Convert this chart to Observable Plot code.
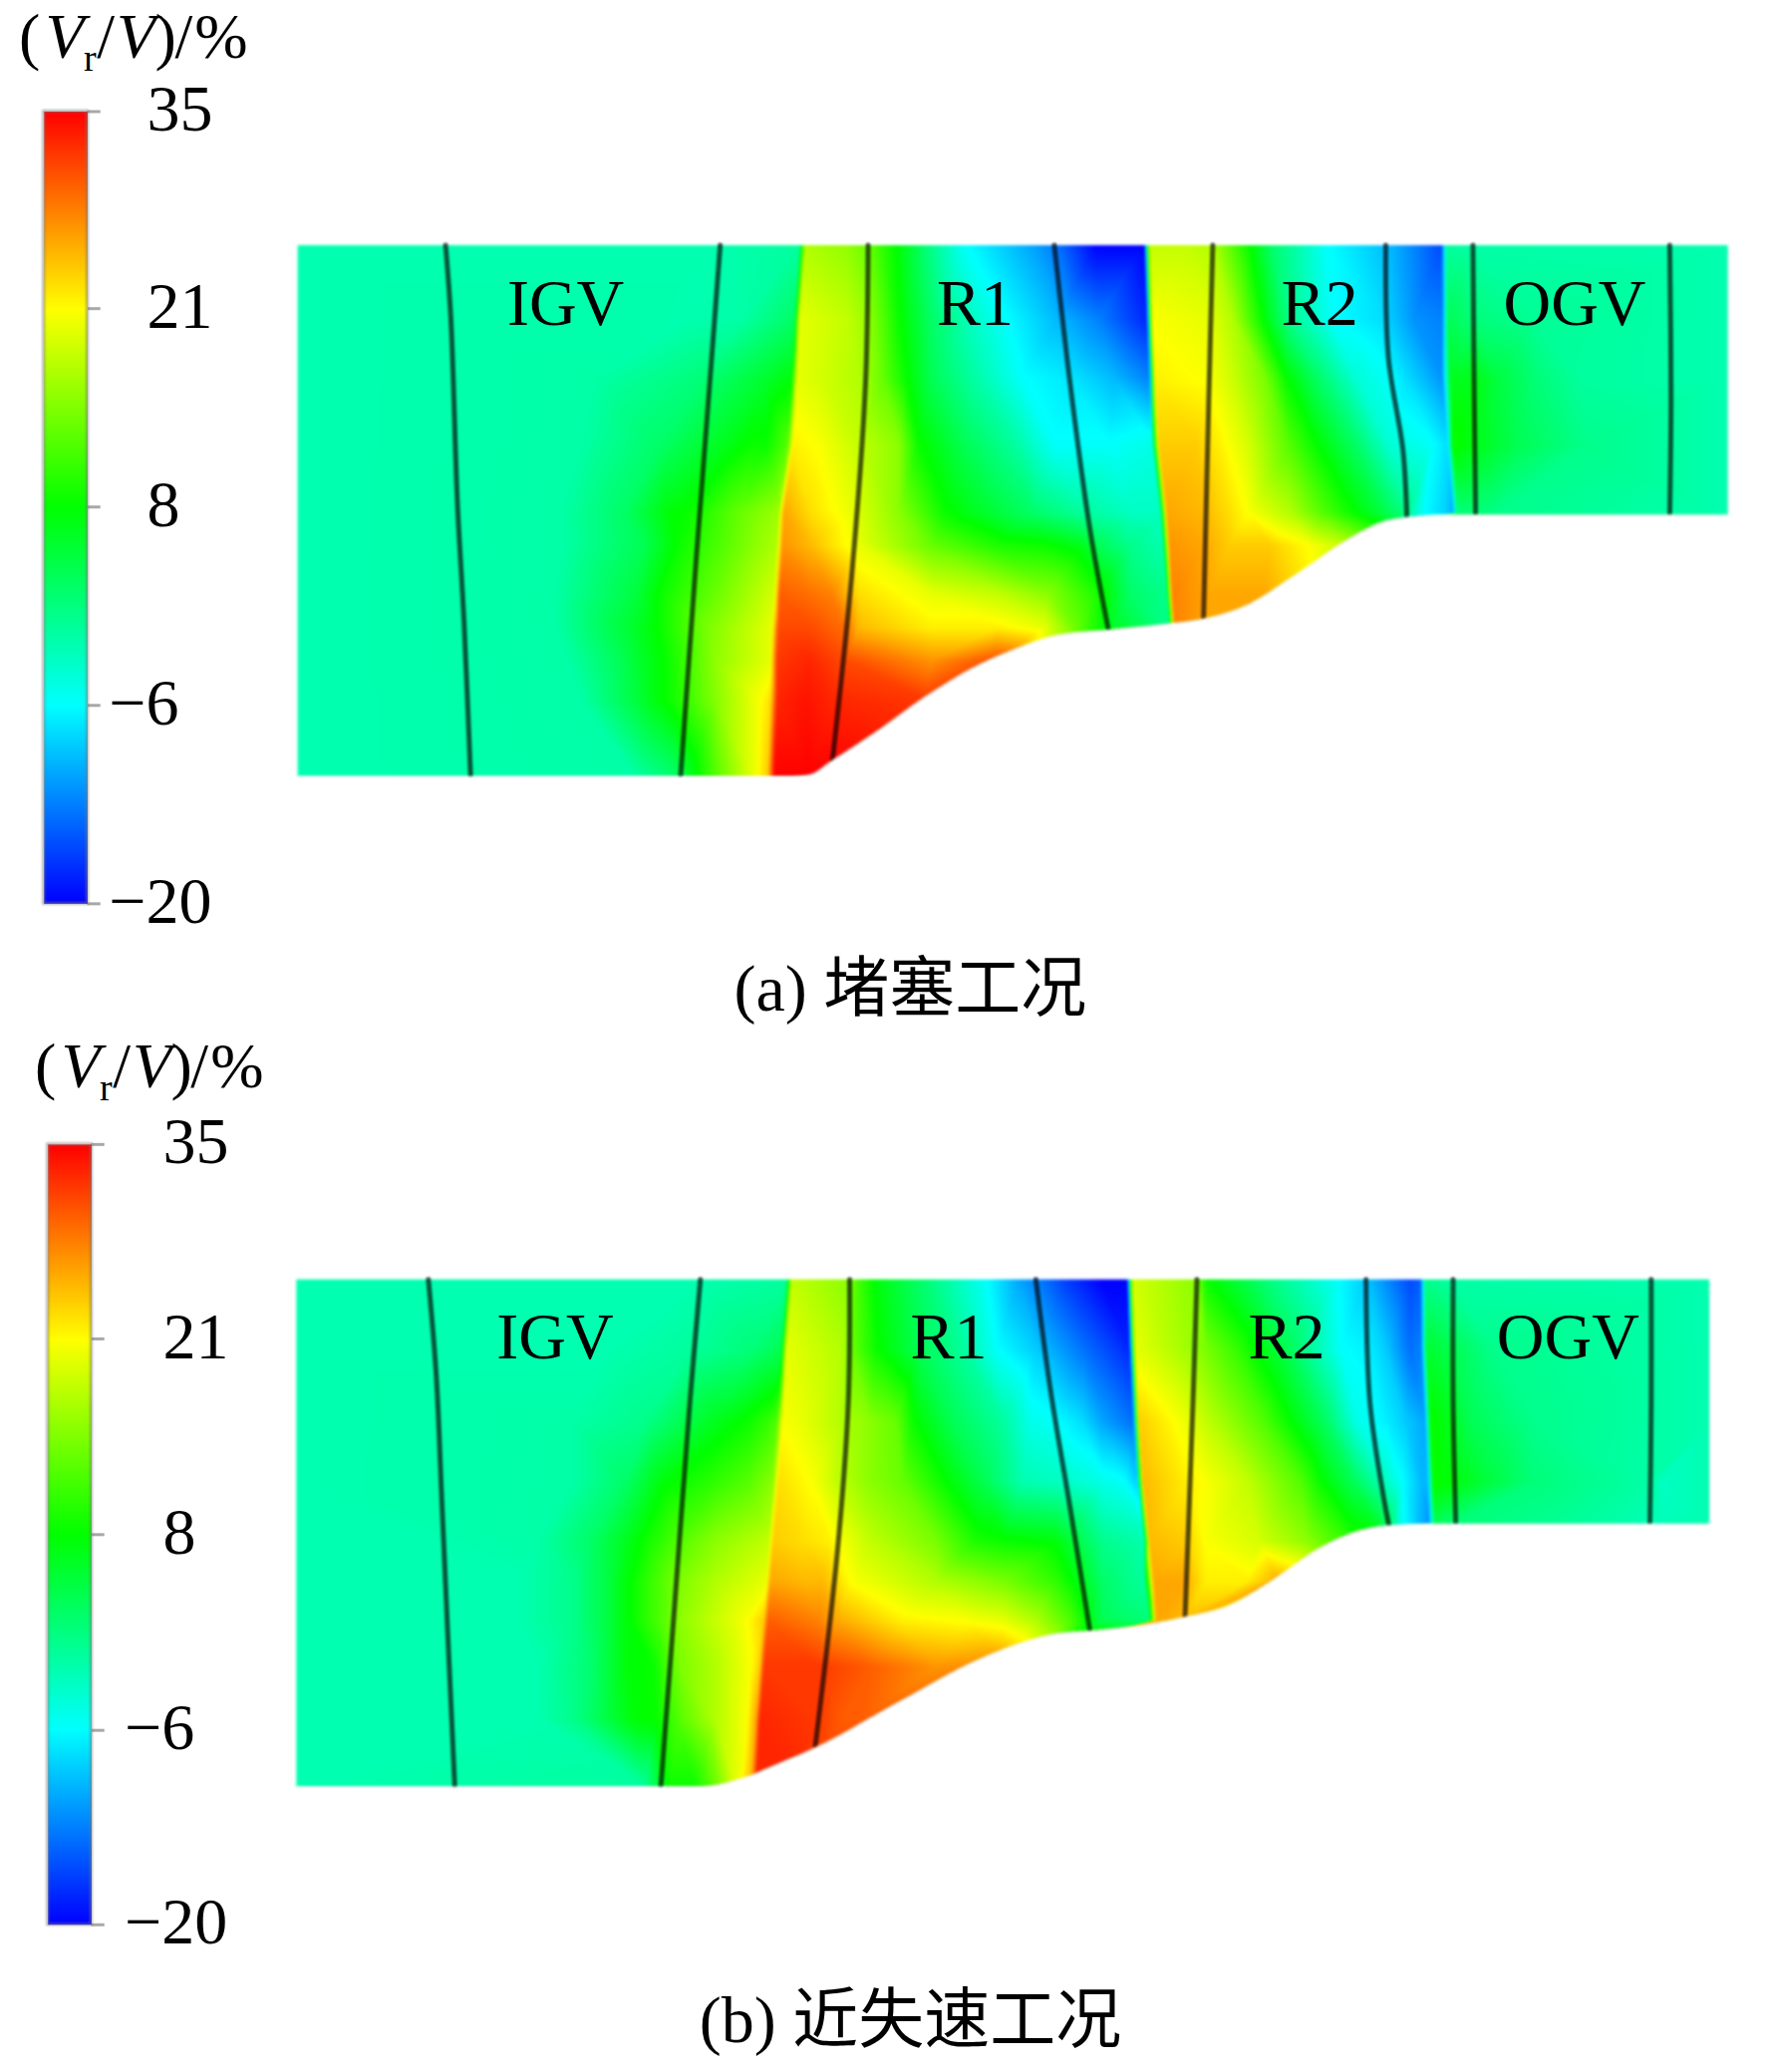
<!DOCTYPE html>
<html><head><meta charset="utf-8">
<style>html,body{margin:0;padding:0;background:#fff}svg{display:block}</style>
<script src="https://cdn.jsdelivr.net/npm/d3@7"></script>
<script src="https://cdn.jsdelivr.net/npm/@observablehq/plot@0.6"></script>
</head><body>
<script>
// Colour scale (Vr/V in %)
const scaleValues = [-20, -6.25, 7.5, 21.25, 35];
const scaleColors = ["#0000ff", "#00ffff", "#00ff00", "#ffff00", "#ff0000"];
const tickLabels = ["35", "21", "8", "−6", "−20"];
const tickYA = [84, 233, 383, 533, 683];
const tickYB = [865, 1012, 1160, 1308, 1455];
const tickLabelX = {A: [111, 111, 111, 82, 82], B: [123, 123, 123, 94, 94]};

// Field samples: radial station y, then [axial x, value]
const fieldA = [
 [185, [[225,-2],[540,-2],[605,-1],[609,17],[640,15.5],[658,13],[668,10],[680,7],[705,0],[730,-6],[780,-11],[796,-13],[830,-20],[866,-20],[870,18],[900,18],[918,17],[945,8],[962,2],[1004,-6],[1052,-10],[1091,-16],[1095,-1],[1115,-1.5],[1308,-2]]],
 [241, [[225,-2],[520,-2],[560,-1.5],[601,2],[605,20],[640,18],[655,16],[665,13],[680,8],[705,2],[743,-4],[760,-6],[800,-10],[831,-13],[868,-18],[872,21],[915,20],[933,17],[955,8],[976,0],[1008,-6],[1046,-8],[1070,-12],[1092,-13],[1096,3],[1115,1],[1160,-0.5],[1308,-2]]],
 [286, [[225,-2],[450,-1.5],[530,1],[579,5],[599,7],[603,20],[620,19],[651,17],[668,13],[685,8],[705,3],[743,-2],[773,-6],[811,-7.5],[844,-10],[870,-13],[874,22],[914,21],[930,19],[958,14],[973,8],[998,2],[1027,-4],[1052,-6],[1065,-8],[1092,-12],[1098,6],[1120,6],[1134,4],[1165,1],[1196,-1],[1308,-2]]],
 [336, [[225,-2],[440,-1.5],[500,2],[548,6],[568,8],[580,8],[596,12],[600,22],[620,21],[650,18],[680,15],[695,8],[730,3],[768,-1],[798,-6],[840,-6],[872,-5],[877,24],[905,24],[923,22],[945,19],[976,12],[995,8],[1027,2],[1052,-4],[1084,-6],[1096,-8],[1100,8],[1120,6],[1150,3],[1200,0],[1308,-2]]],
 [387, [[225,-2],[425,-1.5],[472,2],[505,7],[522,8],[560,13],[589,16],[593,26],[613,23],[645,20],[680,15],[715,8],[735,6],[780,2],[820,-1],[856,-3],[878,-3],[883,26],[912,25],[930,23],[945,21],[977,17],[1001,12],[1023,8],[1046,4],[1065,0],[1077,-6],[1096,-9],[1100,-11],[1103,1],[1117,1],[1135,0],[1308,-2]]],
 [412, [[225,-2],[426,-1.5],[487,3],[514,8],[555,13],[588,17],[592,27],[613,25],[650,20],[705,13],[755,9],[793,8],[820,6],[830,3],[855,0],[880,-2],[885,27],[911,26],[930,24],[961,24],[992,21],[1018,18]]],
 [449, [[225,-2],[420,-1.5],[480,4],[500,8],[540,13],[586,19],[590,30],[613,29],[630,28],[650,23],[705,20],[755,18],[793,15],[830,9],[855,2],[883,0],[887,28],[915,26],[940,26],[956,26]]],
 [474, [[225,-2],[420,-1.5],[478,5],[500,8],[535,14],[584,20],[589,31],[613,31],[640,29],[650,25],[705,22],[755,22],[790,20],[815,13],[840,6],[885,0],[889,28],[915,26]]],
 [499, [[225,-2],[430,-1.5],[470,3],[490,6],[505,8],[540,15],[583,20],[588,32],[613,33],[640,31],[705,27],[755,31]]],
 [529, [[225,-2],[440,-1.5],[480,4],[498,7],[512,9],[543,15],[575,21],[583,23],[588,33],[610,34],[630,33],[700,32]]],
 [587, [[225,-2],[480,-1.5],[512,2],[520,5],[545,13],[570,20],[581,24],[586,35],[612,35],[640,35]]]
];
const fieldB = [
 [967, [[224,-2],[530,-2],[595,-1],[599,18],[641,15],[650,11],[663,7],[696,2],[733,-4],[746,-6],[771,-11],[784,-13],[809,-17],[834,-20],[853,-20],[857,19],[905,15],[913,8],[959,1],[1012,-6],[1033,-9],[1067,-16],[1075,-15],[1079,0],[1100,-1.5],[1294,-2]]],
 [1020, [[224,-2],[460,-2],[522,-1],[568,1],[591,3],[595,20],[638,17],[645,13],[663,8],[696,3],[729,-1],[754,-6],[784,-9],[821,-14],[855,-18],[859,20],[900,16],[913,14],[938,10],[947,8],[975,3],[1015,-6],[1036,-7],[1049,-9],[1067,-14],[1076,-13],[1080,5],[1100,3],[1130,0],[1294,-2]]],
 [1075, [[224,-2],[434,-1.5],[487,0],[514,3],[541,6],[565,8],[580,10],[588,12],[592,21],[608,20],[638,17],[658,15],[678,13],[691,8],[721,3],[759,-1],[779,-5],[799,-6],[819,-8],[834,-11],[858,-14],[862,24],[882,22],[900,20],[913,18],[956,12],[975,8],[1005,2],[1027,-5],[1049,-7],[1064,-9],[1079,-11],[1083,8],[1098,6],[1113,3],[1160,0],[1294,-2]]],
 [1120, [[224,-2],[434,-1.5],[474,2],[501,7],[514,8],[541,10],[565,12],[585,15],[589,23],[615,21],[633,18],[658,15],[683,13],[713,8],[746,3],[774,-2],[803,-3],[834,-5],[851,-6],[861,-9],[865,25],[899,22],[913,21],[944,18],[984,12],[999,8],[1024,3],[1049,-3],[1061,-6],[1076,-10],[1081,-10],[1085,8],[1100,7],[1129,4],[1160,1],[1249,-1.5],[1258,-3],[1294,-2]]],
 [1152, [[1040,6],[1052,2],[1060,-5],[1075,-10],[1082,-12],[1086,3],[1100,1],[1200,-1],[1258,-2.5],[1294,-2]]],
 [1165, [[224,-2],[407,-1.5],[447,2],[474,6],[487,8],[514,12],[541,15],[582,18],[585,24],[608,23],[628,22],[658,18],[708,14],[738,9],[759,8],[799,7],[809,5],[834,0],[866,-2],[870,25],[897,24],[913,21],[953,19],[990,15],[1020,10]]],
 [1195, [[224,-2],[393,-2],[434,0],[460,4],[474,7],[512,14],[541,17],[580,20],[583,26],[608,25],[623,25],[645,21],[708,17],[759,14],[799,10],[814,7],[834,2],[866,-1],[873,26],[896,26],[913,22],[944,22],[968,26]]],
 [1225, [[224,-2],[393,-2],[434,0],[460,4],[474,7],[501,12],[514,15],[565,21],[578,24],[581,30],[620,28],[633,26],[683,22],[733,21],[759,20],[784,17],[809,12],[821,8],[834,3],[870,1],[875,26],[895,25]]],
 [1260, [[224,-2],[407,-2],[447,1.5],[474,7],[495,8],[514,14],[541,17],[568,21],[575,24],[578,32],[620,32],[658,30],[708,27],[759,28]]],
 [1300, [[224,-2],[407,-2],[434,0],[460,4],[479,7],[498,8],[514,12],[541,17],[565,21],[572,26],[575,33],[617,32],[638,30],[650,30]]],
 [1351, [[224,-2],[487,-1],[506,8],[525,8],[541,13],[558,20],[568,25],[572,33],[600,33]]]
];

// Hub profile (lower wall of the passage)
const hubA = [[225,587],[600,587],[612,586],[630,575],[665,552],[700,527],[740,503],[770,490],[800,480],[840,476],[880,472],[915,467],[945,457],[980,435],[1020,408],[1045,395],[1065,391],[1095,389],[1325,389]];
const hubB = [[224,1351],[530,1351],[560,1345],[590,1333],[620,1320],[680,1287],[740,1255],[770,1243],[800,1235],[825,1233],[870,1228],[900,1222],[930,1214],[960,1197],[1000,1170],[1030,1157],[1055,1153],[1085,1152],[1312,1152]];

// Blade edges
const bladesA = [
 [[337,185],[341,240],[346,380],[351,470],[356,587]],
 [[545,185],[537,290],[527,420],[515,587]],
 [[657,185],[655,290],[645,430],[630,575]],
 [[798,185],[810,290],[825,400],[839,476]],
 [[918,185],[915,300],[911,467]],
 [[1049,185],[1051,270],[1062,340],[1065,393]],
 [[1115,185],[1116,300],[1117,389]],
 [[1264,185],[1265,300],[1264,390]]
];
const bladesB = [
 [[324,967],[330,1040],[334,1130],[338,1220],[344,1351]],
 [[530,967],[522,1060],[510,1220],[500,1351]],
 [[643,967],[642,1060],[634,1170],[617,1320]],
 [[784,967],[795,1050],[810,1140],[825,1233]],
 [[906,967],[903,1060],[897,1222]],
 [[1034,967],[1037,1060],[1047,1130],[1052,1156]],
 [[1100,967],[1100,1060],[1102,1152]],
 [[1250,967],[1250,1060],[1249,1152]]
];

const rowNames = ["IGV", "R1", "R2", "OGV"];
const rowNameXA = [428, 738, 999, 1192];
const rowNameXB = [420, 718, 974, 1187];
const captions = [{t:"(a) 堵塞工况", x:689, y:748}, {t:"(b) 近失速工况", x:689, y:1528}];
const unitPieces = [
 {t:"(", dx:0, dy:0, it:false, s:64},
 {t:"V", dx:20, dy:0, it:true, s:64},
 {t:"r", dx:49, dy:10, it:false, s:38},
 {t:"/", dx:59, dy:0, it:false, s:64},
 {t:"V", dx:74, dy:0, it:true, s:64},
 {t:")", dx:103, dy:0, it:false, s:64},
 {t:"/", dx:118, dy:0, it:false, s:64},
 {t:"%", dx:133, dy:0, it:false, s:64}
];
const unitOrigin = {A:[14,43], B:[26,821.5]};
const legendBoxA = {x1:33, x2:66, y1:84, y2:683};
const legendBoxB = {x1:36, x2:69, y1:865, y2:1455};

const serif = '"Liberation Serif","Noto Sans CJK SC",serif';
const flatten = rows => rows.flatMap(([y, knots]) => knots.map(([x, v]) => ({x, y, v})));
const path = (list) => list.flatMap((pts, id) => pts.map(([x, y]) => ({x, y, id})));
const toXY = pts => pts.map(([x, y]) => ({x, y}));

function legendMarks(box, tickY, labelX) {
  const corners = [
    {x:box.x1, y:box.y1, v:35}, {x:box.x2, y:box.y1, v:35},
    {x:box.x1, y:box.y2, v:-20}, {x:box.x2, y:box.y2, v:-20}
  ];
  const ticks = tickLabels.map((t, i) => ({t, y:tickY[i], lx:labelX[i]}));
  return [
    Plot.ruleY(ticks, {y:"y", x1:box.x2, x2:box.x2 + 10, stroke:"#a8a8a8", strokeWidth:3}),
    Plot.raster(corners, {x:"x", y:"y", fill:"v", interpolate:"barycentric", x1:box.x1, x2:box.x2, y1:box.y1, y2:box.y2}),
    Plot.rect([box], {x1:"x1", x2:"x2", y1:"y1", y2:"y2", fill:"none", stroke:"#777", strokeOpacity:0.55, strokeWidth:3, imageFilter:"blur(0.8px)"}),
    Plot.text(ticks, {x:"lx", y:"y", text:"t", textAnchor:"start", lineAnchor:"middle", dy:-2, fontFamily:serif, fontSize:66, fill:"#000"})
  ];
}
function unitMarks([ox, oy]) {
  return unitPieces.map(p => Plot.text([p], {x:d => ox + d.dx, y:d => oy + d.dy, text:"t", textAnchor:"start", lineAnchor:"bottom",
    fontFamily:serif, fontSize:p.s, fontStyle:p.it ? "italic" : "normal", fill:"#000"}));
}
function panelMarks(field, hub, blades, names, nameY, box) {
  return [
    Plot.raster(flatten(field), {x:"x", y:"y", fill:"v", interpolate:"barycentric", pixelSize:1,
      x1:box.x1, x2:box.x2, y1:box.y1, y2:box.y2, imageFilter:"blur(1.6px)"}),
    Plot.line(path(blades), {x:"x", y:"y", z:"id", curve:"catmull-rom", stroke:"#000", strokeOpacity:0.66, strokeWidth:5, imageFilter:"blur(0.8px)"}),
    Plot.areaY(toXY(hub), {x:"x", y1:"y", y2:() => box.y2 + 12, curve:"monotone-x", fill:"#fff", imageFilter:"blur(1.5px)"}),
    Plot.text(rowNames.map((t, i) => ({t, x:names[i], y:nameY})), {x:"x", y:"y", text:"t", lineAnchor:"middle", dy:-2, fontFamily:serif, fontSize:66, fill:"#000"})
  ];
}

const chart = Plot.plot({
  width:1772, height:2079, margin:0,
  x:{domain:[0,1337.3], range:[0,1772], axis:null},
  y:{domain:[0,1566.7], range:[0,2079], axis:null},
  color:{type:"linear", domain:scaleValues, range:scaleColors, clamp:true, legend:false},
  marks:[
    ...panelMarks(fieldA, hubA, bladesA, rowNameXA, 231, {x1:225, x2:1308, y1:185, y2:587}),
    ...panelMarks(fieldB, hubB, bladesB, rowNameXB, 1012, {x1:224, x2:1294, y1:967, y2:1351}),
    ...legendMarks(legendBoxA, tickYA, tickLabelX.A),
    ...legendMarks(legendBoxB, tickYB, tickLabelX.B),
    ...unitMarks(unitOrigin.A),
    ...unitMarks(unitOrigin.B),
    Plot.text(captions, {x:"x", y:"y", text:"t", lineAnchor:"middle", fontFamily:serif, fontSize:66, fill:"#000"})
  ]
});
document.body.appendChild(chart);
</script>
</body></html>
